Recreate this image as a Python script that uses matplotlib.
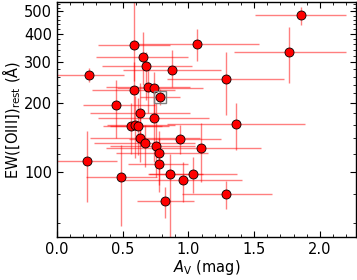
import numpy as np
import matplotlib
matplotlib.use("Agg")
import matplotlib.pyplot as plt
from matplotlib.ticker import FixedLocator, MultipleLocator, FormatStrFormatter, NullFormatter

# A_V (mag) and EW([OIII])_rest (Angstrom)
av = [1.856, 1.764, 1.067, 0.586, 0.654, 0.677, 0.877, 0.243, 1.285, 0.690,
      0.738, 0.583, 0.781, 0.449, 0.631, 0.740, 1.359, 0.563, 0.593, 0.619,
      0.629, 0.672, 0.750, 0.773, 0.938, 1.095, 0.226, 0.773, 0.487, 0.859,
      1.034, 0.956, 0.824, 1.288]
av_lo = [1.51, 1.35, 0.60, 0.31, 0.30, 0.34, 0.50, -0.05, 0.84, 0.37,
         0.46, 0.27, 0.63, 0.20, 0.25, 0.31, 0.84, 0.35, 0.38, 0.40,
         0.25, 0.28, 0.40, 0.45, 0.55, 0.37, -0.05, 0.54, 0.22, 0.70,
         0.69, 0.50, 0.61, 0.95]
av_hi = [2.20, 2.20, 1.54, 0.86, 1.00, 1.03, 1.25, 0.51, 1.73, 1.01,
         1.11, 0.90, 0.935, 0.745, 1.01, 1.16, 1.89, 0.80, 0.90, 0.85,
         1.09, 1.05, 1.05, 1.15, 1.25, 1.55, 0.455, 1.00, 0.76, 1.11,
         1.37, 1.41, 1.04, 1.635]
ew = [483, 333, 362, 357, 317, 290, 277, 264, 254, 235,
      233, 228, 212, 195, 180, 172, 162, 159, 160, 158,
      141, 133, 129.5, 121, 139, 127, 112, 108, 94.5, 97.7,
      98, 92, 74.7, 80]
ew_lo = [437, 244, 303, 250, 239, 206, 235, 246, 177, 180,
         174, 155, 195, 140, 130, 110, 124, 120, 115, 118,
         110, 105, 95, 88, 120, 90, 74, 82, 58, 45,
         81, 74, 63, 69]
ew_hi = [525, 428, 420, 600, 407, 333, 339, 283, 333, 290,
         273, 300, 230, 251, 245, 240, 200, 200, 215, 210,
         180, 160, 200, 150, 160, 163, 150, 140, 131, 120,
         116, 110, 86, 91]
highlight = 12  # index of the boxed source

av = np.array(av); ew = np.array(ew)
xerr = [av - np.array(av_lo), np.array(av_hi) - av]
yerr = [ew - np.array(ew_lo), np.array(ew_hi) - ew]

fig = plt.figure(figsize=(3.57, 2.80), dpi=100)
ax = fig.add_axes([57/357, 1-237/280, (356-57)/357, (237-2)/280])

ax.errorbar(av, ew, xerr=xerr, yerr=yerr, fmt='none', ecolor='red',
            alpha=0.5, elinewidth=1.0, capsize=0, zorder=1)
ax.plot(av, ew, 'o', ms=6.5, mfc='red', mec='black', mew=0.6, ls='none', zorder=3)
ax.plot(av[highlight], ew[highlight], 's', ms=9, mfc='none', mec='gray',
        mew=1.0, zorder=4)

ax.set_yscale('log')
ax.set_xlim(0, 2.275)
ax.set_ylim(52, 550)

ax.xaxis.set_major_locator(MultipleLocator(0.5))
ax.xaxis.set_minor_locator(MultipleLocator(0.1))
ax.xaxis.set_major_formatter(FormatStrFormatter('%.1f'))
majors = [100, 200, 300, 400, 500]
ax.yaxis.set_major_locator(FixedLocator(majors))
ax.yaxis.set_minor_locator(FixedLocator([v for v in range(60, 560, 20) if v not in majors]))
ax.yaxis.set_major_formatter(FormatStrFormatter('%d'))
ax.yaxis.set_minor_formatter(NullFormatter())

ax.tick_params(which='both', direction='in', top=True, right=True, labelsize=10.5)
ax.tick_params(which='major', length=4, width=0.8)
ax.tick_params(which='minor', length=2.5, width=0.6)
for s in ax.spines.values():
    s.set_linewidth(1.0)

ax.set_xlabel(r'$A_{\rm V}$ (mag)', fontsize=10.5, labelpad=1)
ax.set_ylabel(r'EW([OIII])$_{\rm rest}$ (Å)', fontsize=10.5, labelpad=1)

fig.savefig('out.png', dpi=100)
